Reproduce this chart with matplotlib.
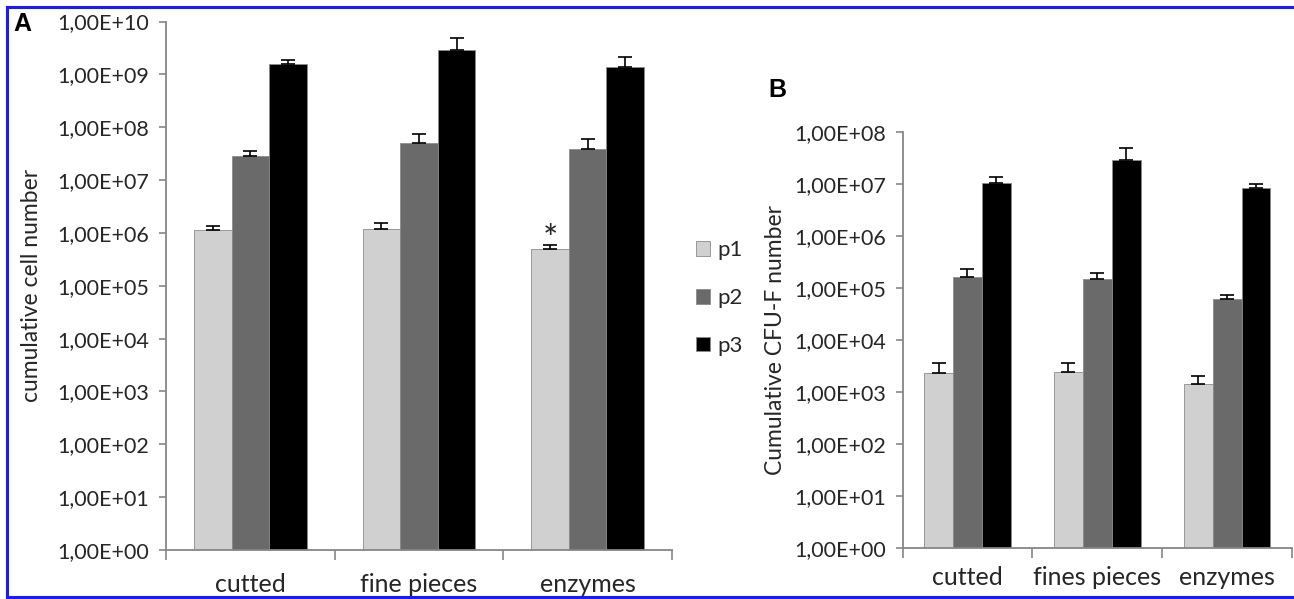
import numpy as np
import matplotlib
matplotlib.use('Agg')
import matplotlib.pyplot as plt
from matplotlib.lines import Line2D
from matplotlib.patches import Patch
from matplotlib.ticker import FuncFormatter, LogLocator, NullLocator

# values (upper error bars only)
cats_a = ['cutted', 'fine pieces', 'enzymes']
cats_b = ['cutted', 'fines pieces', 'enzymes']
series = ['p1', 'p2', 'p3']

cells_p1 = [1.15e6, 1.19e6, 4.96e5]
cells_p2 = [2.8e7, 5.0e7, 3.9e7]
cells_p3 = [1.6e9, 2.95e9, 1.4e9]
cells_p1_err = [2.0e5, 3.5e5, 0.9e5]
cells_p2_err = [0.8e7, 2.3e7, 2.0e7]
cells_p3_err = [0.3e9, 1.95e9, 0.7e9]

cfu_p1 = [2.35e3, 2.43e3, 1.43e3]
cfu_p2 = [1.6e5, 1.46e5, 6.0e4]
cfu_p3 = [1.05e7, 2.86e7, 8.2e6]
cfu_p1_err = [1.2e3, 1.2e3, 0.6e3]
cfu_p2_err = [0.74e5, 0.44e5, 1.3e4]
cfu_p3_err = [0.31e7, 2.1e7, 1.7e6]

colors = ['#d0d0d0', '#6a6a6a', '#000000']
plt.rcParams['font.family'] = ['Lato', 'DejaVu Sans']
txt = '#262626'
axcol = '#868686'

W, H = 1294, 599
fig = plt.figure(figsize=(W / 100, H / 100), dpi=100)


def px(x0, y0, x1, y1):
    # pixel box (top-left origin) -> figure fraction rect
    return [x0 / W, 1 - y1 / H, (x1 - x0) / W, (y1 - y0) / H]


def sci(v, pos):
    return '1,00E+%02d' % int(round(np.log10(v)))


def draw(ax, cats, vals, errs, top, ylab, xpad):
    x = np.arange(len(cats))
    w = 0.667 / 3
    for i in range(3):
        ax.bar(x + (i - 1) * w, vals[i], w, color=colors[i],
               edgecolor='#8c8c8c', linewidth=0.6, zorder=2)
        ax.errorbar(x + (i - 1) * w, vals[i],
                    yerr=[np.zeros(len(cats)), errs[i]],
                    fmt='none', ecolor='black', elinewidth=1.2,
                    capsize=5, capthick=1.2, zorder=3)
    ax.set_yscale('log')
    ax.set_ylim(1, top)
    ax.set_xlim(-0.5, len(cats) - 0.5)
    ax.yaxis.set_major_locator(LogLocator(base=10, numticks=20))
    ax.yaxis.set_minor_locator(NullLocator())
    ax.yaxis.set_major_formatter(FuncFormatter(sci))
    ax.set_xticks(x)
    ax.set_xticklabels(cats, fontsize=18, color=txt)
    ax.set_xticks(np.arange(len(cats) + 1) - 0.5, minor=True)
    ax.tick_params(axis='x', which='major', length=0, pad=xpad)
    ax.tick_params(axis='x', which='minor', length=7, width=1.2,
                   color=axcol, direction='out', labelbottom=False)
    ax.tick_params(axis='y', length=5, width=1.2, color=axcol,
                   labelsize=15.5, labelcolor=txt, pad=7)
    for s in ['top', 'right']:
        ax.spines[s].set_visible(False)
    for s in ['left', 'bottom']:
        ax.spines[s].set_color(axcol)
        ax.spines[s].set_linewidth(1.3)
    ax.set_ylabel(ylab, fontsize=16.5, color=txt)


axA = fig.add_axes(px(166, 21.5, 672, 550))
draw(axA, cats_a, [cells_p1, cells_p2, cells_p3],
     [cells_p1_err, cells_p2_err, cells_p3_err], 1e10,
     'cumulative cell number', 16.5)
axA.yaxis.set_label_coords(-0.245, 0.5)
axA.text(2 - 0.667 / 3, (cells_p1[2] + cells_p1_err[2]) * 1.25, '*',
         ha='center', va='center', fontsize=26, color=txt)

axB = fig.add_axes(px(902.5, 131.7, 1292, 548.3))
draw(axB, cats_b, [cfu_p1, cfu_p2, cfu_p3],
     [cfu_p1_err, cfu_p2_err, cfu_p3_err], 1e8,
     'Cumulative CFU-F number', 12.5)
axB.yaxis.set_label_coords(-0.3, 0.5)

handles = [Patch(facecolor=c, edgecolor='#8c8c8c', linewidth=0.6) for c in colors]
fig.legend(handles, series, loc='center left', bbox_to_anchor=(676 / W, 1 - 298 / H),
           frameon=False, fontsize=16, handlelength=0.65, handleheight=0.65,
           handletextpad=0.3, labelspacing=1.25, labelcolor=txt)

fig.text(22 / W, 1 - 24 / H, 'A', fontsize=18, fontweight='bold',
         family='Liberation Sans', ha='center', va='center')
fig.text(777 / W, 1 - 90 / H, 'B', fontsize=18, fontweight='bold',
         family='Liberation Sans', ha='center', va='center')

# blue frame of the original figure panel
blue = '#1a1aff'
fig.add_artist(Line2D([7 / W, 1], [1 - 7 / H, 1 - 7 / H], color=blue, lw=2.2,
                      transform=fig.transFigure))
fig.add_artist(Line2D([7 / W, 1], [1 - 597 / H, 1 - 597 / H], color=blue, lw=2.2,
                      transform=fig.transFigure))
fig.add_artist(Line2D([7 / W, 7 / W], [1 - 7 / H, 1 - 597 / H], color=blue, lw=2.2,
                      transform=fig.transFigure))

fig.savefig('out.png', dpi=100)
